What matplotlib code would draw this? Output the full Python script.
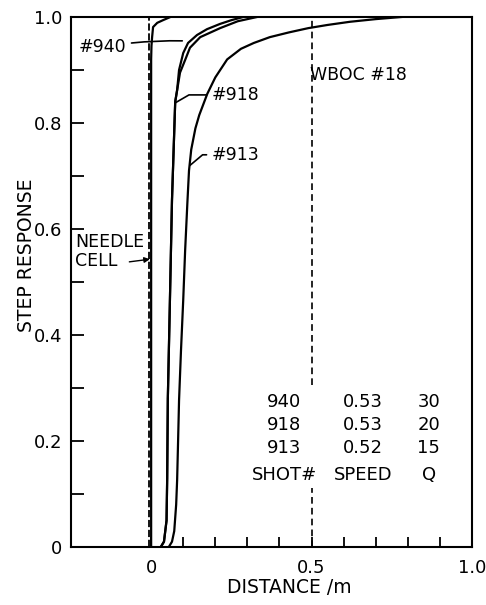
import matplotlib
matplotlib.use("Agg")
import matplotlib.pyplot as plt
from matplotlib.ticker import FixedLocator

plt.rcParams["font.family"] = ["DejaVu Sans"]

# step response curves, read as (distance m, response)
needle_x = [0.0, 0.0, 0.0, 0.001, 0.003, 0.006, 0.019, 0.037, 0.06]
needle_y = [0.0, 0.5, 0.92, 0.945, 0.962, 0.981, 0.989, 0.994, 1.0]

shot940_x = [0.03, 0.04, 0.048, 0.05, 0.052, 0.058, 0.065, 0.075, 0.081,
             0.087, 0.1, 0.115, 0.143, 0.174, 0.215, 0.25, 0.287]
shot940_y = [0.0, 0.01, 0.05, 0.13, 0.28, 0.45, 0.655, 0.84, 0.862,
             0.9, 0.932, 0.951, 0.966, 0.977, 0.987, 0.994, 1.0]

shot918_x = [0.03, 0.04, 0.048, 0.05, 0.052, 0.058, 0.065, 0.075, 0.081,
             0.09, 0.106, 0.121, 0.153, 0.215, 0.27, 0.33]
shot918_y = [0.0, 0.01, 0.05, 0.13, 0.28, 0.45, 0.655, 0.84, 0.862,
             0.895, 0.919, 0.942, 0.962, 0.979, 0.992, 1.0]

shot913_x = [0.055, 0.065, 0.072, 0.078, 0.081, 0.084, 0.087, 0.093, 0.1,
             0.106, 0.113, 0.118, 0.125, 0.138, 0.15, 0.175, 0.2, 0.237,
             0.28, 0.32, 0.37, 0.43, 0.49, 0.55, 0.62, 0.7, 0.78]
shot913_y = [0.0, 0.01, 0.03, 0.08, 0.126, 0.2, 0.277, 0.37, 0.466,
             0.56, 0.65, 0.71, 0.75, 0.79, 0.815, 0.855, 0.886, 0.92,
             0.94, 0.951, 0.962, 0.971, 0.979, 0.985, 0.991, 0.996, 1.0]

wboc_x = 0.5
needle_ref_x = -0.008

# shot table
shots = ["940", "918", "913"]
speeds = ["0.53", "0.53", "0.52"]
q_values = ["30", "20", "15"]

x_ticks = [0, 0.5, 1.0]
x_tick_labels = ["0", "0.5", "1.0"]
y_ticks = [0, 0.2, 0.4, 0.6, 0.8, 1.0]
y_tick_labels = ["0", "0.2", "0.4", "0.6", "0.8", "1.0"]

fig = plt.figure(figsize=(4.86, 6.05), dpi=100)
ax = fig.add_axes([0.146, 0.0959, 0.825, 0.876])

lw = 1.6
ax.plot(needle_x, needle_y, color="black", lw=lw)
ax.plot(shot940_x, shot940_y, color="black", lw=lw)
ax.plot(shot918_x, shot918_y, color="black", lw=lw)
ax.plot(shot913_x, shot913_y, color="black", lw=lw)
ax.axvline(needle_ref_x, color="black", lw=1.3, ls=(0, (4, 1.5)))
ax.axvline(wboc_x, ymin=0.0, ymax=0.111, color="black", lw=1.2, ls=(0, (4, 2.5)))
ax.axvline(wboc_x, ymin=0.306, ymax=1.0, color="black", lw=1.2, ls=(0, (4, 2.5)))

ax.set_xlim(-0.25, 1.0)
ax.set_ylim(0, 1.0)

# ticks
ax.xaxis.set_major_locator(FixedLocator(x_ticks))
ax.xaxis.set_minor_locator(FixedLocator([0.1 * i for i in range(1, 10)]))
ax.set_xticklabels(x_tick_labels)
ax.yaxis.set_major_locator(FixedLocator(y_ticks))
ax.yaxis.set_minor_locator(FixedLocator([0.1 * i for i in range(1, 10, 2)]))
ax.set_yticklabels(y_tick_labels)
ax.tick_params(axis="x", which="both", direction="in", length=7, width=1.3,
               labelsize=13, pad=9, top=False)
ax.tick_params(axis="y", which="both", direction="in", length=9, width=1.3,
               labelsize=13, pad=6, right=False)
for s in ax.spines.values():
    s.set_linewidth(1.5)

ax.set_xlabel("DISTANCE /m", fontsize=13.5, va="center")
ax.set_ylabel("STEP RESPONSE", fontsize=13.5, va="center")
ax.xaxis.set_label_coords(0.544, -0.077)
ax.yaxis.set_label_coords(-0.112, 0.55)

# curve labels
lab = dict(fontsize=12.5, va="center")
ax.annotate("#940", xy=(0.097, 0.955), xytext=(-0.227, 0.943), ha="left",
            arrowprops=dict(arrowstyle="-", lw=1.2, color="black",
                            connectionstyle="arc3,rad=-0.05",
                            shrinkA=2, shrinkB=0), **lab)
ax.annotate("#918", xy=(0.075, 0.838), xytext=(0.19, 0.853), ha="left",
            arrowprops=dict(arrowstyle="-", lw=1.2, color="black",
                            connectionstyle="angle,angleA=0,angleB=30,rad=0",
                            shrinkA=2, shrinkB=0), **lab)
ax.annotate("#913", xy=(0.121, 0.72), xytext=(0.19, 0.74), ha="left",
            arrowprops=dict(arrowstyle="-", lw=1.2, color="black",
                            connectionstyle="angle,angleA=0,angleB=40,rad=0",
                            shrinkA=2, shrinkB=0), **lab)
ax.text(0.495, 0.89, "WBOC #18", ha="left", **lab)

ax.text(-0.237, 0.557, "NEEDLE\nCELL", ha="left", va="center",
        fontsize=12.5, linespacing=1.1)
ax.annotate("", xy=(-0.004, 0.543), xytext=(-0.068, 0.538),
            arrowprops=dict(arrowstyle="-|>", lw=1.0, color="black",
                            mutation_scale=8, shrinkA=0, shrinkB=0))

# shot / speed / Q table
col_x = [0.415, 0.66, 0.865]
row_y = [0.274, 0.23, 0.187]
for i in range(len(shots)):
    ax.text(col_x[0], row_y[i], shots[i], ha="center", va="center", fontsize=13)
    ax.text(col_x[1], row_y[i], speeds[i], ha="center", va="center", fontsize=13)
    ax.text(col_x[2], row_y[i], q_values[i], ha="center", va="center", fontsize=13)
ax.text(col_x[0], 0.136, "SHOT#", ha="center", va="center", fontsize=13)
ax.text(col_x[1], 0.136, "SPEED", ha="center", va="center", fontsize=13)
ax.text(col_x[2], 0.136, "Q", ha="center", va="center", fontsize=13)

fig.savefig("out.png", dpi=100)
